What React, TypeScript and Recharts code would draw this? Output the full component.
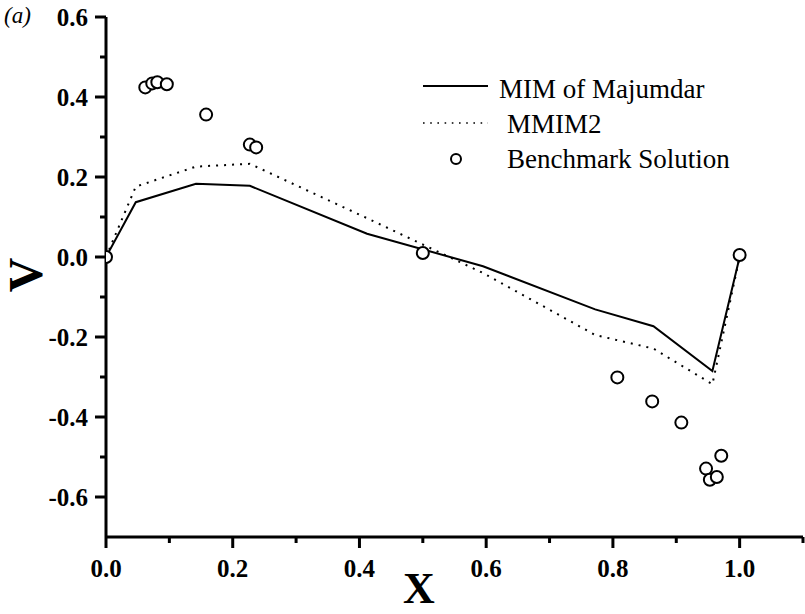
import React from 'react';
import { ComposedChart, XAxis, YAxis, Line, Scatter, Legend } from 'recharts';

// X positions and V values
const mimX = [0, 0.047, 0.142, 0.227, 0.412, 0.595, 0.772, 0.864, 0.957, 1.0];
const mimV = [0, 0.137, 0.183, 0.178, 0.058, -0.023, -0.131, -0.173, -0.285, 0.0];

const mmimX = [0, 0.047, 0.142, 0.227, 0.412, 0.595, 0.772, 0.864, 0.957, 1.0];
const mmimV = [0, 0.176, 0.226, 0.233, 0.097, -0.04, -0.195, -0.229, -0.318, 0.0];

const benchX = [0, 0.062, 0.073, 0.081, 0.096, 0.158, 0.227, 0.237, 0.5, 0.807, 0.862, 0.908, 0.971, 0.947, 0.953, 0.964, 1.0];
const benchV = [0, 0.424, 0.434, 0.437, 0.432, 0.356, 0.281, 0.274, 0.01, -0.301, -0.361, -0.414, -0.497, -0.529, -0.557, -0.55, 0.005];

const xTicks = [0, 0.1, 0.2, 0.3, 0.4, 0.5, 0.6, 0.7, 0.8, 0.9, 1.0, 1.1];
const yTicks = [-0.6, -0.5, -0.4, -0.3, -0.2, -0.1, 0, 0.1, 0.2, 0.3, 0.4, 0.5, 0.6];

const seriesNames = ['MIM of Majumdar', 'MMIM2', 'Benchmark Solution'];

const mimData = mimX.map((x, i) => ({ x, y: mimV[i] }));
const mmimData = mmimX.map((x, i) => ({ x, y: mmimV[i] }));
const benchData = benchX.map((x, i) => ({ x, y: benchV[i] }));

const SERIF = "'Liberation Serif', 'Times New Roman', serif";

const isMajor = (v: number) => Math.round(v * 10) % 2 === 0;
const fmt = (v: number) => (Math.abs(v) < 1e-9 ? '0.0' : v.toFixed(1));

const XTick = (props: any) => {
  const { x, y, payload } = props;
  const major = isMajor(payload.value);
  const len = major ? 11 : 6;
  return (
    <g>
      <line x1={x} y1={y} x2={x} y2={y + len} stroke="#000" strokeWidth={3} />
      {major && payload.value <= 1.0001 ? (
        <text x={x} y={y + 40} textAnchor="middle" fontFamily={SERIF} fontWeight="bold" fontSize={25} fill="#000">
          {fmt(payload.value)}
        </text>
      ) : null}
    </g>
  );
};

const YTick = (props: any) => {
  const { x, y, payload } = props;
  const major = isMajor(payload.value);
  const len = major ? 11 : 6;
  return (
    <g>
      <line x1={x - len} y1={y} x2={x} y2={y} stroke="#000" strokeWidth={3} />
      {major ? (
        <text x={x - 18} y={y} dy="0.35em" textAnchor="end" fontFamily={SERIF} fontWeight="bold" fontSize={25} fill="#000">
          {fmt(payload.value)}
        </text>
      ) : null}
    </g>
  );
};

const XTitle = (props: any) => {
  const vb = props.viewBox || { x: 106, y: 537 };
  const cx = vb.x + 313;
  const baseline = vb.y + 66;
  return (
    <text x={cx} y={baseline} textAnchor="middle" fontFamily={SERIF} fontWeight="bold" fontSize={44} fill="#000">
      X
    </text>
  );
};

const YTitle = (props: any) => {
  const vb = props.viewBox || { x: 0, y: 17, height: 520 };
  const cx = 42;
  const cy = vb.y + 258;
  return (
    <text
      x={cx}
      y={cy}
      transform={`rotate(-90, ${cx}, ${cy})`}
      textAnchor="middle"
      fontFamily={SERIF}
      fontWeight="bold"
      fontSize={48}
      fill="#000"
    >
      V
    </text>
  );
};

const BenchDot = (props: any) => {
  const { cx, cy } = props;
  if (cx == null || cy == null) return null;
  return <circle cx={cx} cy={cy} r={6} fill="#fff" stroke="#000" strokeWidth={2} />;
};

const renderLegend = () => (
  <svg width={360} height={120} style={{ display: 'block', overflow: 'visible' }}>
    <line x1={8} y1={26} x2={73} y2={26} stroke="#000" strokeWidth={2} />
    <text x={84} y={38} fontFamily={SERIF} fontSize={27} fill="#000">{seriesNames[0]}</text>
    <line x1={8} y1={63} x2={73} y2={63} stroke="#000" strokeWidth={1.6} strokeDasharray="1.6 5.6" />
    <text x={92} y={73} fontFamily={SERIF} fontSize={27} fill="#000">{seriesNames[1]}</text>
    <circle cx={41} cy={99} r={5} fill="#fff" stroke="#000" strokeWidth={2} />
    <text x={92} y={108} fontFamily={SERIF} fontSize={27} fill="#000">{seriesNames[2]}</text>
  </svg>
);

export default function App() {
  return (
    <div style={{ position: 'absolute', left: 0, top: 0, width: 805, height: 614, background: '#fff' }}>
      <div style={{ position: 'absolute', left: 4, top: 3, fontFamily: SERIF, fontStyle: 'italic', fontSize: 23, lineHeight: '26px', color: '#000', zIndex: 2 }}>
        (a)
      </div>
      <ComposedChart width={805} height={614} margin={{ top: 17, right: 2, bottom: 0, left: 0 }}>
        <XAxis
          type="number"
          dataKey="x"
          domain={[0, 1.1]}
          ticks={xTicks}
          interval={0}
          allowDataOverflow
          tick={<XTick />}
          tickLine={false}
          tickSize={0}
          tickMargin={0}
          height={77}
          axisLine={{ stroke: '#000', strokeWidth: 3 }}
          label={<XTitle />}
        />
        <YAxis
          type="number"
          dataKey="y"
          domain={[-0.7, 0.6]}
          ticks={yTicks}
          interval={0}
          allowDataOverflow
          tick={<YTick />}
          tickLine={false}
          tickSize={0}
          tickMargin={0}
          width={106}
          axisLine={{ stroke: '#000', strokeWidth: 3 }}
          label={<YTitle />}
        />
        <Legend
          layout="vertical"
          align="center"
          verticalAlign="middle"
          content={renderLegend}
          wrapperStyle={{ position: 'absolute', left: 415, top: 60, width: 360, height: 120 }}
        />
        <Line
          data={mimData}
          dataKey="y"
          name={seriesNames[0]}
          type="linear"
          stroke="#000"
          strokeWidth={2}
          dot={false}
          activeDot={false}
          isAnimationActive={false}
        />
        <Line
          data={mmimData}
          dataKey="y"
          name={seriesNames[1]}
          type="linear"
          stroke="#000"
          strokeWidth={2}
          strokeDasharray="2 6"
          dot={false}
          activeDot={false}
          isAnimationActive={false}
        />
        <Scatter
          data={benchData}
          dataKey="y"
          name={seriesNames[2]}
          shape={<BenchDot />}
          isAnimationActive={false}
        />
      </ComposedChart>
    </div>
  );
}
